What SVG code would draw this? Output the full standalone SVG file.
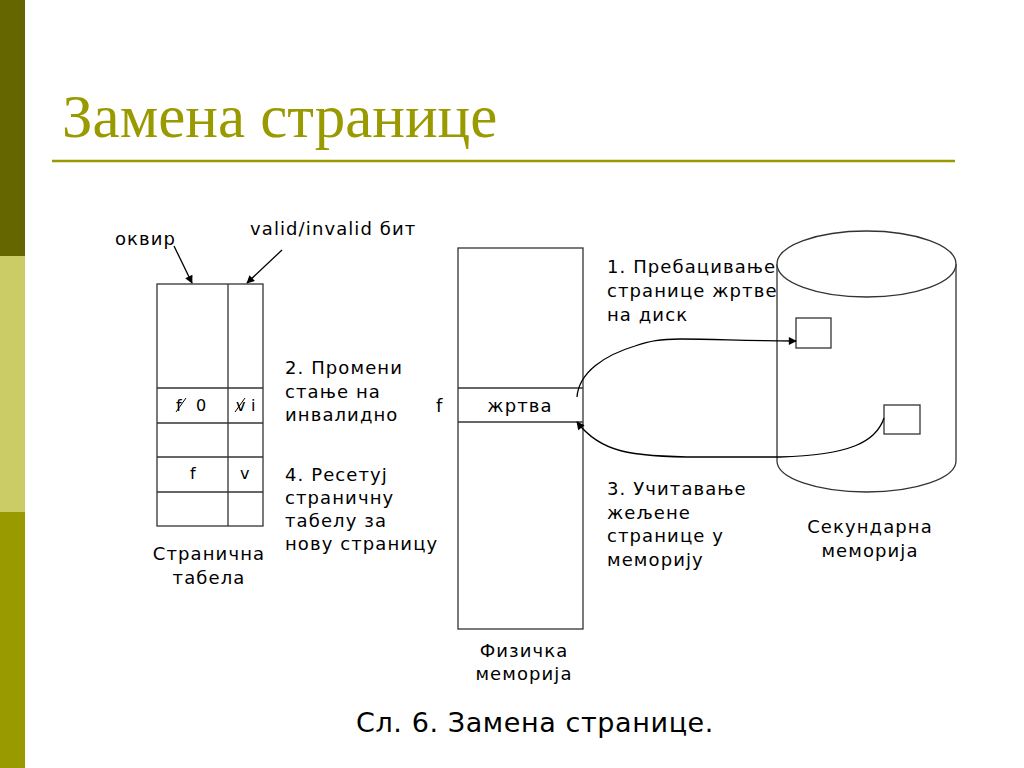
<svg xmlns="http://www.w3.org/2000/svg" width="1024" height="768" viewBox="0 0 1024 768">
<style>
.t{font-family:"DejaVu Sans","Noto Sans",sans-serif;font-size:18px;letter-spacing:1.1px;fill:#000}
.s{font-family:"DejaVu Sans","Noto Sans",sans-serif;font-size:16px;fill:#000}
.c{text-anchor:middle}
.box{fill:#fff;stroke:#333;stroke-width:1.3}
.ln{fill:none;stroke:#333;stroke-width:1.3}
.con{fill:none;stroke:#000;stroke-width:1.3}
</style>
<defs>
<marker id="ah" viewBox="0 0 10 10" refX="9" refY="5" markerWidth="10" markerHeight="8" markerUnits="userSpaceOnUse" orient="auto">
<path d="M0,0 L10,5 L0,10 Z" fill="#000"/>
</marker>
</defs>
<rect x="0" y="0" width="1024" height="768" fill="#fff"/>
<g id="sidebar">
<rect x="0" y="0" width="25" height="256" fill="#666600"/>
<rect x="0" y="256" width="25" height="256" fill="#cccc66"/>
<rect x="0" y="512" width="25" height="256" fill="#999900"/>
</g>
<g id="title">
<text x="62" y="137" font-family="Liberation Serif, serif" font-size="61" fill="#999900">Замена странице</text>
<line x1="52" y1="161" x2="955" y2="161" stroke="#999900" stroke-width="2.5"/>
</g>
<g id="page-table">
<rect class="box" x="157" y="284" width="106" height="242"/>
<line class="ln" x1="228" y1="284" x2="228" y2="526"/>
<line class="ln" x1="157" y1="388" x2="263" y2="388"/>
<line class="ln" x1="157" y1="423" x2="263" y2="423"/>
<line class="ln" x1="157" y1="457" x2="263" y2="457"/>
<line class="ln" x1="157" y1="492" x2="263" y2="492"/>
<text class="s" x="176" y="411">f</text>
<text class="s" x="196" y="411">0</text>
<line x1="176" y1="412" x2="186" y2="398" stroke="#000" stroke-width="1"/>
<text class="s" x="236" y="411">v</text>
<text class="s" x="251" y="411">i</text>
<line x1="235" y1="412" x2="245" y2="398" stroke="#000" stroke-width="1"/>
<text class="s" x="190" y="479">f</text>
<text class="s" x="240" y="479">v</text>
<text class="t c" x="209" y="560">Странична</text>
<text class="t c" x="209" y="584">табела</text>
</g>
<g id="labels-table">
<text class="t" x="115" y="245">оквир</text>
<text class="t" x="250" y="235">valid/invalid бит</text>
<text class="t" x="285" y="374">2. Промени</text>
<text class="t" x="285" y="397.5">стање на</text>
<text class="t" x="285" y="421">инвалидно</text>
<text class="t" x="285" y="481">4. Ресетуј</text>
<text class="t" x="285" y="504">страничну</text>
<text class="t" x="285" y="527">табелу за</text>
<text class="t" x="285" y="550">нову страницу</text>
</g>
<g id="physical-memory">
<rect class="box" x="458" y="248" width="125" height="381"/>
<line class="ln" x1="458" y1="388" x2="583" y2="388"/>
<line class="ln" x1="458" y1="422" x2="583" y2="422"/>
<text class="t c" x="520" y="412">жртва</text>
<text class="t" x="436" y="412">f</text>
<text class="t c" x="524" y="657">Физичка</text>
<text class="t c" x="524" y="680">меморија</text>
</g>
<g id="secondary-memory">
<path class="box" d="M777,264 L777,461 A89.5,31 0 0 0 956,461 L956,264"/>
<ellipse class="box" cx="866.5" cy="264" rx="89.5" ry="33"/>
<rect class="box" x="796" y="318" width="35" height="30"/>
<rect class="box" x="884" y="405" width="36" height="29"/>
<text class="t c" x="870" y="533">Секундарна</text>
<text class="t c" x="870" y="557">меморија</text>
</g>
<g id="labels-steps">
<text class="t" x="607" y="273">1. Пребацивање</text>
<text class="t" x="607" y="297">странице жртве</text>
<text class="t" x="607" y="321">на диск</text>
<text class="t" x="607" y="495">3. Учитавање</text>
<text class="t" x="607" y="518.5">жељене</text>
<text class="t" x="607" y="542">странице у</text>
<text class="t" x="607" y="565.5">меморију</text>
</g>
<g id="connectors">
<line class="con" x1="174" y1="246" x2="192" y2="283" marker-end="url(#ah)"/>
<line class="con" x1="282" y1="250" x2="247" y2="283" marker-end="url(#ah)"/>
<path class="con" d="M577,397 C579,372 605,355 635,346 C650,341 660,339 680,339 C720,339 740,341 796,341" marker-end="url(#ah)"/>
<path class="con" d="M884,418 C876,442 850,455 780,457 L700,457 C630,457 600,452 577,422" marker-end="url(#ah)"/>
</g>
<text id="caption" x="535" y="732" font-family="DejaVu Sans, sans-serif" font-size="27" letter-spacing="0.6" text-anchor="middle" fill="#000">Сл. 6. Замена странице.</text>
</svg>
